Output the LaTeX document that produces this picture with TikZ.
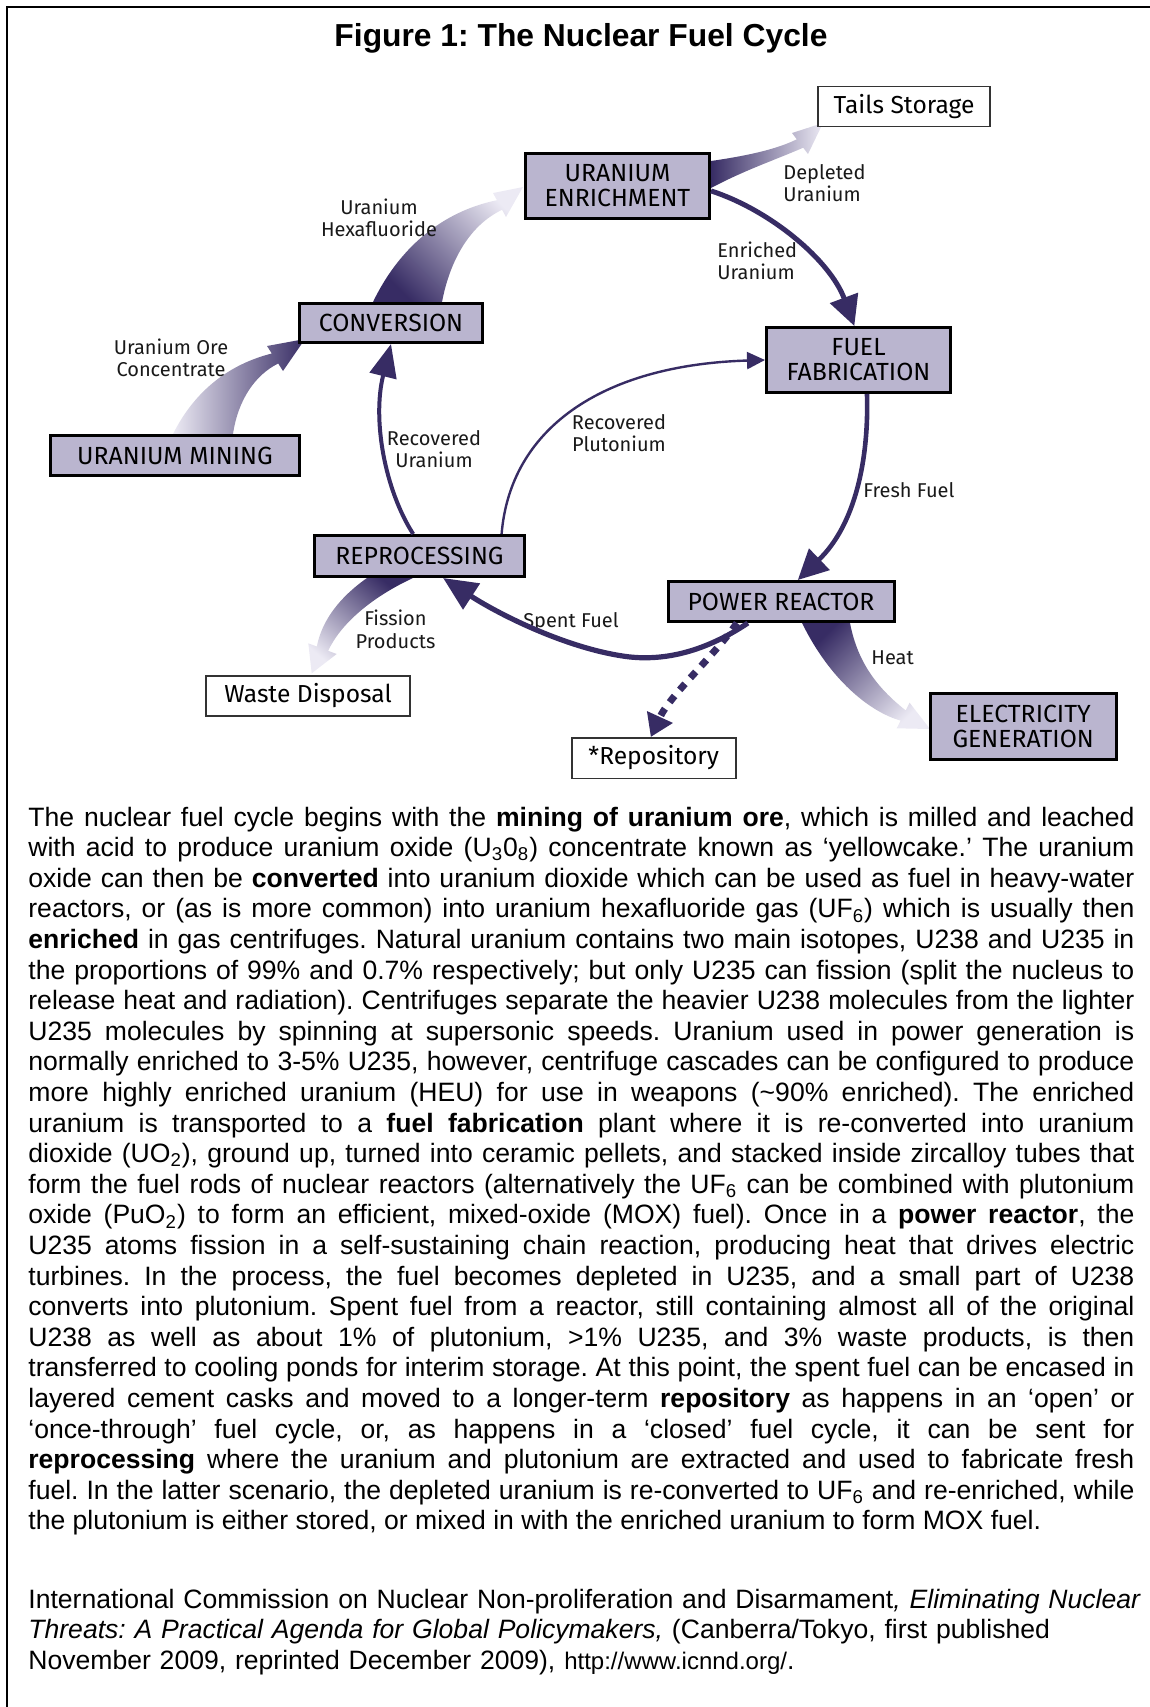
\documentclass[tikz,border=0pt]{standalone}
\usepackage{fontspec}
\setmainfont{Liberation Sans}
\newfontfamily\dinfont{Fira Sans}
\usepackage{tikz}
\usetikzlibrary{arrows.meta,backgrounds}
\frenchspacing
\definecolor{boxfill}{RGB}{186,181,207}
\definecolor{arrowdark}{RGB}{55,44,100}
\definecolor{arrowlight}{RGB}{236,234,244}
\tikzstyle{block} = [rectangle, draw, line width=1.5pt, fill=boxfill,
    align=center, inner sep=0pt, font=\dinfont\fontsize{12.4}{12.5}\selectfont]
\tikzstyle{blockwhite} = [rectangle, draw=black!80, line width=0.75pt, fill=white,
    align=center, inner sep=0pt, font=\dinfont\fontsize{12.3}{12.5}\selectfont]
\tikzstyle{line} = [draw=arrowdark, line width=2.5pt, -{Triangle[length=15pt,width=14.5pt]}]
\tikzstyle{mylabel} = [anchor=base, align=center, inner sep=0pt, text=black!90,
    font=\dinfont\fontsize{10}{11.25}\selectfont]
\tikzstyle{bodytext} = [anchor=base west, inner sep=0pt, font=\fontsize{13.28}{15.3}\selectfont]

\begin{document}
\begin{tikzpicture}[x=0.5pt, y=-0.5pt]
    \useasboundingbox (0,0) rectangle (1150,1707);
    % frame and title
    \draw [line width=0.9pt] (1150,7) -| (7,1707);
    \node [anchor=base, inner sep=0pt, font=\bfseries\fontsize{15.9}{19}\selectfont] (title) at (581,47) {Figure 1: The Nuclear Fuel Cycle};
    % Place nodes
    \node [block, minimum width=92pt, minimum height=32.5pt] (enrich) at (617.5,186) {URANIUM\\ENRICHMENT};
    \node [block, minimum width=91.5pt, minimum height=19.5pt] (conversion) at (391,323) {CONVERSION};
    \node [block, minimum width=124.5pt, minimum height=20pt] (mining) at (175,455.5) {URANIUM MINING};
    \node [block, minimum width=92pt, minimum height=32.5pt] (fuelfab) at (858.5,360) {FUEL\\FABRICATION};
    \node [block, minimum width=105pt, minimum height=20.5pt] (reproc) at (419.5,556) {REPROCESSING};
    \node [block, minimum width=113pt, minimum height=20pt] (reactor) at (781,601.5) {POWER REACTOR};
    \node [block, minimum width=92.8pt, minimum height=33.2pt] (elec) at (1023.2,726.3) {ELECTRICITY\\GENERATION};
    \node [blockwhite, minimum width=86pt, minimum height=20pt] (tails) at (904,106.5) {Tails Storage};
    \node [blockwhite, minimum width=102pt, minimum height=20pt] (waste) at (308,696) {Waste Disposal};
    \node [blockwhite, minimum width=82pt, minimum height=20.25pt] (repos) at (653.75,758) {*Repository};
    % the labels on the arrows (base = last line)
    \node [mylabel] (hexalabel) at (379,236.5) {Uranium\\Hexafluoride};
    \node [mylabel] (orelabel) at (171,376.5) {Uranium Ore\\Concentrate};
    \node [mylabel, anchor=base west, align=left] (depletedlabel) at (783,201.5) {Depleted\\Uranium};
    \node [mylabel, anchor=base west, align=left] (enrichedlabel) at (717,279.5) {Enriched\\Uranium};
    \node [mylabel] (recUlabel) at (434,467.5) {Recovered\\Uranium};
    \node [mylabel] (recPulabel) at (619,451.5) {Recovered\\Plutonium};
    \node [mylabel, anchor=base west] (freshlabel) at (863,497) {Fresh Fuel};
    \node [mylabel] (fissionlabel) at (395.5,648) {Fission\\Products};
    \node [mylabel] (spentlabel) at (571,627) {Spent Fuel};
    \node [mylabel, anchor=base west] (heatlabel) at (871,664) {Heat};
    % fat shaded arrows, behind the boxes
    \begin{scope}[on background layer]
        \shade [left color=arrowlight, right color=arrowdark] (173,434) .. controls (195,390) and (230,364) .. (271.8,353.5) -- (267,346) -- (305,339) -- (283,371) -- (278.2,363.5) .. controls (255,375) and (238,400) .. (233,434) -- cycle;
        \shade [top color=arrowlight, bottom color=arrowdark, shading angle=-45] (373,302) .. controls (398,250) and (440,212) .. (496.9,200.2) -- (493,193) -- (523,187) -- (506,217) -- (502.1,209.8) .. controls (470,225) and (450,260) .. (442,302) -- cycle;
        \shade [left color=arrowdark, right color=arrowlight] (711,161) .. controls (745,156) and (775,150) .. (796.8,139.3) -- (792,133) -- (823,123) -- (808,154) -- (803.2,147.7) .. controls (775,160) and (745,170) .. (711,188) -- cycle;
        \shade [top color=arrowdark, bottom color=arrowlight, shading angle=-40] (367,578) .. controls (340,597) and (322,620) .. (316.8,646.5) -- (308.3,643.3) -- (311.7,673.3) -- (336.7,654) -- (328.2,650.8) .. controls (340,625) and (370,598) .. (413,578) -- cycle;
        \shade [top color=arrowdark, bottom color=arrowlight, shading angle=45] (802,623) .. controls (830,680) and (870,712) .. (900.6,720.6) -- (896.7,728.3) -- (930,729) -- (909.6,702.7) -- (905.7,710.4) .. controls (880,690) and (858,665) .. (850,623) -- cycle;
    \end{scope}
    % Draw edges
    \path [line] (enrich.-3) .. controls (770,210) and (830,260) .. (fuelfab.97);
    \path [line, line width=2.3pt] (fuelfab.-76) .. controls (869,460) and (855,525) .. (reactor.52);
    \path [line, line width=2.6pt, -{Triangle[length=17pt,width=15pt]}] (reactor.-147) .. controls (700,655) and (660,660) .. (630,657) .. controls (570,650) and (500,615) .. (reproc.-43);
    \path [line, line width=2pt, -{Triangle[length=16.5pt,width=13.5pt]}] (reproc.106) .. controls (385,490) and (372,420) .. (conversion.south);
    \path [line, line width=1.2pt, -{Triangle[length=9pt,width=8.5pt]}] (reproc.15) .. controls (510,430) and (600,365) .. (fuelfab.west);
    \path [line, line width=3.5pt, dash pattern=on 4pt off 4pt, -{Triangle[length=11pt,width=13.5pt]}] (reactor.-154) .. controls (715,655) and (670,695) .. (repos.98);
    % text below the picture
    \node [bodytext, text width=553pt, align=justify] (body) at (28,826) {\tolerance=10000\hbadness=10000\hyphenpenalty=10000\noindent
The nuclear fuel cycle begins with the \textbf{mining of uranium ore}, which is milled and leached\linebreak
with acid to produce uranium oxide (U\textsubscript{3}0\textsubscript{8}) concentrate known as `yellowcake.' The uranium\linebreak
oxide can then be \textbf{converted} into uranium dioxide which can be used as fuel in heavy-water\linebreak
reactors, or (as is more common) into uranium hexafluoride gas (UF\textsubscript{6}) which is usually then\linebreak
\textbf{enriched} in gas centrifuges. Natural uranium contains two main isotopes, U238 and U235 in\linebreak
the proportions of 99\% and 0.7\% respectively; but only U235 can fission (split the nucleus to\linebreak
release heat and radiation). Centrifuges separate the heavier U238 molecules from the lighter\linebreak
U235 molecules by spinning at supersonic speeds. Uranium used in power generation is\linebreak
normally enriched to 3-5\% U235, however, centrifuge cascades can be configured to produce\linebreak
more highly enriched uranium (HEU) for use in weapons (\textasciitilde90\% enriched). The enriched\linebreak
uranium is transported to a \textbf{fuel fabrication} plant where it is re-converted into uranium\linebreak
dioxide (UO\textsubscript{2}), ground up, turned into ceramic pellets, and stacked inside zircalloy tubes that\linebreak
form the fuel rods of nuclear reactors (alternatively the UF\textsubscript{6} can be combined with plutonium\linebreak
oxide (PuO\textsubscript{2}) to form an efficient, mixed-oxide (MOX) fuel). Once in a \textbf{power reactor}, the\linebreak
U235 atoms fission in a self-sustaining chain reaction, producing heat that drives electric\linebreak
turbines. In the process, the fuel becomes depleted in U235, and a small part of U238\linebreak
converts into plutonium. Spent fuel from a reactor, still containing almost all of the original\linebreak
U238 as well as about 1\% of plutonium, >1\% U235, and 3\% waste products, is then\linebreak
transferred to cooling ponds for interim storage. At this point, the spent fuel can be encased in\linebreak
layered cement casks and moved to a longer-term \textbf{repository} as happens in an `open' or\linebreak
`once-through' fuel cycle, or, as happens in a `closed' fuel cycle, it can be sent for\linebreak
\textbf{reprocessing} where the uranium and plutonium are extracted and used to fabricate fresh\linebreak
fuel. In the latter scenario, the depleted uranium is re-converted to UF\textsubscript{6} and re-enriched, while\linebreak
the plutonium is either stored, or mixed in with the enriched uranium to form MOX fuel.};
    \node [bodytext, text width=575pt, align=left] (source) at (28,1608) {International Commission on Nuclear Non-proliferation and Disarmament\textit{, Eliminating Nuclear}\\
\textit{Threats: A Practical Agenda for Global Policymakers,} (Canberra/Tokyo, first published\\
November 2009, reprinted December 2009), {\fontsize{12}{15.3}\selectfont http://www.icnnd.org/}.};
\end{tikzpicture}
\end{document}
